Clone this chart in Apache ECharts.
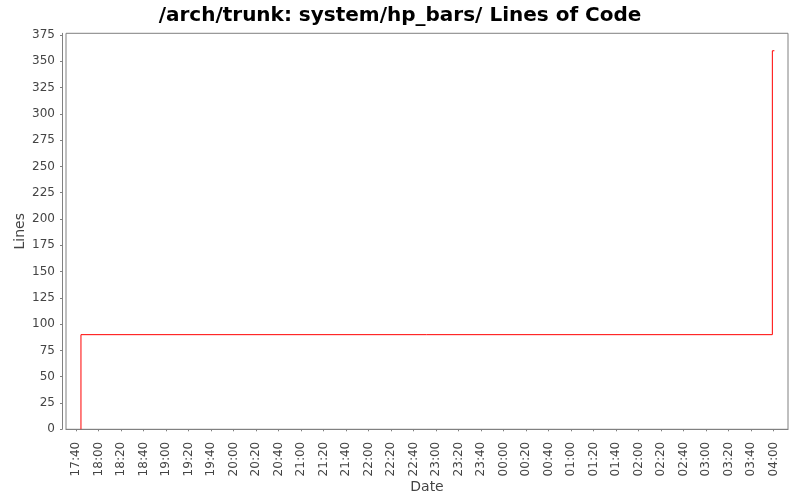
<!DOCTYPE html>
<html>
<head>
<meta charset="utf-8">
<script src="https://cdn.jsdelivr.net/npm/echarts@6/dist/echarts.min.js"></script>
<style>html,body{margin:0;padding:0;background:#fff}#c{width:800px;height:500px}</style>
</head>
<body>
<div id="c"></div>
<script>
// Times are minutes since 00:00 of the first day (values above 1440 fall on the next day)
const titleText = '/arch/trunk: system/hp_bars/ Lines of Code';
const xTicks = [1060,1080,1100,1120,1140,1160,1180,1200,1220,1240,1260,1280,1300,1320,1340,1360,1380,1400,1420,1440,1460,1480,1500,1520,1540,1560,1580,1600,1620,1640,1660,1680];
const yTicks = [0,25,50,75,100,125,150,175,200,225,250,275,300,325,350,375];
const locTimes = [1064.4, 1064.4, 1678.8, 1680.6];
const locValues = [0, 90, 360, 360];
const xMin = 1051.1, xMax = 1692.7;
const yMin = 0, yMax = 376.6;

function fmt(v){
  const m = ((Math.round(v) % 1440) + 1440) % 1440;
  const h = Math.floor(m/60), mm = m%60;
  return String(h).padStart(2,'0') + ':' + String(mm).padStart(2,'0');
}

const chart = echarts.init(document.getElementById('c'), null, {renderer:'canvas'});
const font = 'DejaVu Sans';
chart.setOption({
  backgroundColor:'#ffffff',
  animation:false,
  title:{
    text:titleText, left:'center', top:1,
    textStyle:{fontFamily:font, fontSize:20, fontWeight:'bold', color:'#000'}
  },
  grid:{left:66, right:12, top:33.3, bottom:70.7, show:true, borderColor:'#808080', borderWidth:1, backgroundColor:'#fff', containLabel:false, outerBoundsMode:'none'},
  xAxis:{
    type:'value', min:xMin, max:xMax, offset:3.5,
    name:'Date', nameLocation:'middle', nameGap:48, nameMoveOverlap:false,
    nameTextStyle:{fontFamily:font, fontSize:14, color:'#444'},
    axisLine:{show:true, lineStyle:{color:'#808080', width:1}},
    axisTick:{show:true, length:2, lineStyle:{color:'#808080'}, customValues:xTicks},
    axisLabel:{rotate:90, margin:9, fontFamily:font, fontSize:12, color:'#444', customValues:xTicks, formatter:fmt},
    splitLine:{show:false}
  },
  yAxis:{
    type:'value', min:yMin, max:yMax, offset:4,
    name:'Lines', nameLocation:'middle', nameGap:35, nameMoveOverlap:false,
    nameTextStyle:{fontFamily:font, fontSize:14, color:'#444'},
    axisLine:{show:true, lineStyle:{color:'#808080', width:1}},
    axisTick:{show:true, length:2, lineStyle:{color:'#808080'}, customValues:yTicks},
    axisLabel:{margin:7, fontFamily:font, fontSize:12, color:'#444', customValues:yTicks},
    splitLine:{show:false}
  },
  series:[{
    type:'line', step:'end', symbol:'none',
    data: locTimes.map((t,i)=>[t, locValues[i]]),
    lineStyle:{color:'#ff0000', width:1}
  }]
});
</script>
</body>
</html>
